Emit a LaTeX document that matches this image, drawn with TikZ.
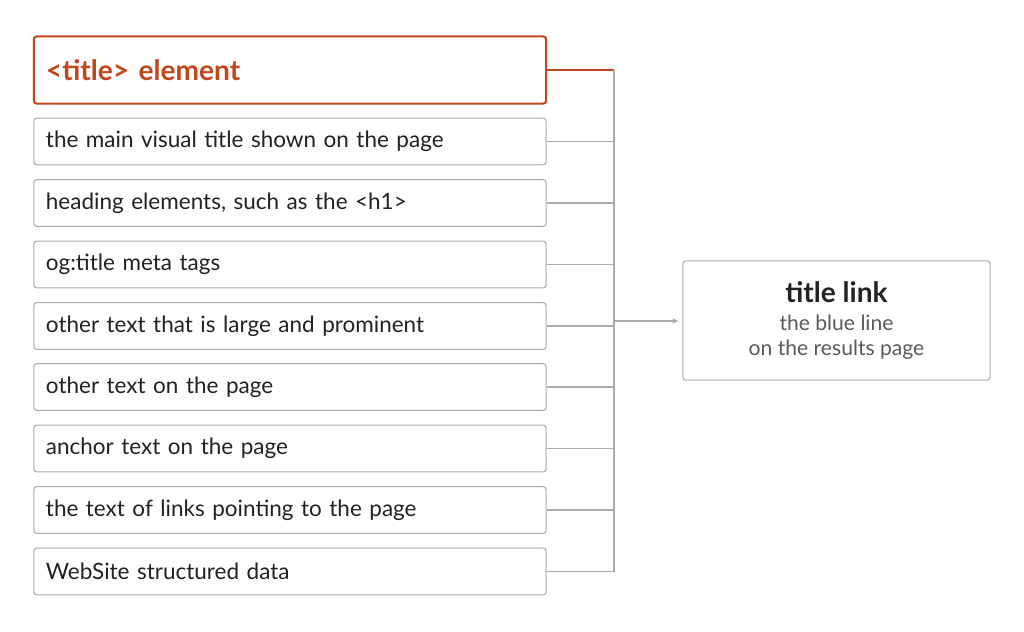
\documentclass[tikz,border=0pt]{standalone}
\usepackage{fontspec}
\setmainfont{Lato}
\usetikzlibrary{positioning}
\definecolor{rust}{HTML}{C0461B}
\definecolor{frame}{HTML}{ABABAB}
\definecolor{ink}{HTML}{222222}
\definecolor{soft}{HTML}{5A5A5A}

\begin{document}
\begin{tikzpicture}[x=0.025cm,y=-0.025cm,% one unit is one pixel of the reference
			every node/.style={
				align=center,
				inner sep=0pt
			},
			item/.style={rectangle,rounded corners=2pt,draw=frame,line width=0.8pt,
				minimum width=12.8cm,minimum height=1.17cm,text=ink,
				font=\fontsize{16}{18}\selectfont,text width=12.2cm,align=left},
			wire/.style={draw=frame,line width=0.8pt}
		]
		\useasboundingbox (0,0) rectangle (1024,631);
		\node[rectangle,rounded corners=2pt,draw=rust,line width=1.5pt,minimum width=12.8cm,
			minimum height=1.68cm,text=rust,font=\fontsize{20}{22}\selectfont\bfseries,
			text width=12.2cm,align=left](T) at (290,70){<title> element};
		\node[item](S1) at (290,141.5){the main visual title shown on the page};
		\node[item](S2) at (290,203){heading elements, such as the <h1>};
		\node[item](S3) at (290,264.5){og:title meta tags};
		\node[item](S4) at (290,326){other text that is large and prominent};
		\node[item](S5) at (290,387){other text on the page};
		\node[item](S6) at (290,448.5){anchor text on the page};
		\node[item](S7) at (290,510){the text of links pointing to the page};
		\node[item](S8) at (290,571.5){WebSite structured data};
		\node[rectangle,rounded corners=2pt,draw=frame,line width=0.8pt,minimum width=7.68cm,
			minimum height=2.98cm,text=ink,font=\fontsize{15}{18}\selectfont](R) at (836.5,320.5){%
			\fontsize{20}{24}\selectfont\bfseries title link\\[2pt]
			\textcolor{soft}{the blue line}\\
			\textcolor{soft}{on the results page}};
		\coordinate (J0) at (614,70);
		\coordinate (J9) at (614,571.5);
		\coordinate (JR) at (614,321);
		\draw[rust,line width=1.5pt] (T.east) -- (J0);
		\draw[wire] (J0) -- (J9);
		\foreach \k in {1,...,8}{
			\draw[wire] (S\k.east) -- (S\k.east -| J0);
		}
		\draw[wire,->,>=stealth] (JR) -- ++(64,0);
	\end{tikzpicture}
\end{document}
